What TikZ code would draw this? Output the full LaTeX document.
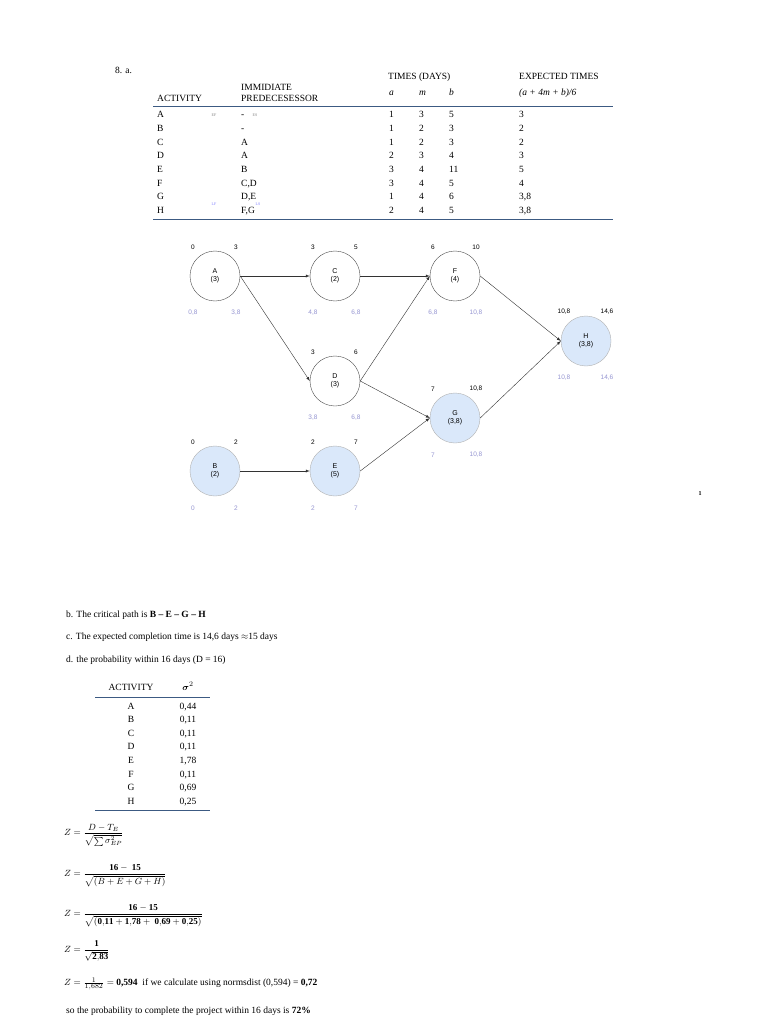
\documentclass[tikz,border=0pt]{standalone}
\usepackage{fontspec}
\setmainfont{Liberation Serif}
\newfontfamily\netfont{Liberation Sans}
\usepackage{amsmath}
\definecolor{critfill}{RGB}{218,232,250}
\definecolor{rulec}{RGB}{60,90,130}
\definecolor{lsc}{RGB}{150,150,210}
\begin{document}
\begin{tikzpicture}[x=1pt,y=-1pt,
  txt/.style={anchor=base west,inner sep=0,font=\fontsize{9.5}{10}\selectfont},
  ctr/.style={anchor=base,inner sep=0,font=\fontsize{9.5}{10}\selectfont},
  tiny/.style={anchor=base,inner sep=0,font=\fontsize{4}{5}\selectfont,text=gray},
  ev/.style={circle,draw=black!70,minimum size=50pt,inner sep=0,align=center,font=\netfont\fontsize{7}{8}\selectfont},
  crit/.style={ev,fill=critfill,draw=gray!60},
  es/.style={anchor=center,inner sep=0,font=\netfont\fontsize{6.5}{7}\selectfont},
  ls/.style={es,text=lsc},
  arr/.style={-latex,black!80,thin},
  rule/.style={draw=rulec,line width=1pt}]
\useasboundingbox (0,0) rectangle (768,1024);
\fill[white] (0,0) rectangle (768,1024);
% table 1
\node[txt] (h8) at (115,74) {8. a.};
\node[txt] (ht) at (388,80) {TIMES (DAYS)};
\node[txt] (he) at (519,80) {EXPECTED TIMES};
\node[txt] (hi) at (241,91) {IMMIDIATE};
\node[txt] (hp) at (241,102) {PREDECESESSOR};
\node[txt] (ha) at (157,102) {ACTIVITY};
\node[txt] (ia) at (389,96) {\itshape a};
\node[txt] (im) at (419,96) {\itshape m};
\node[txt] (ib) at (449,96) {\itshape b};
\node[txt] (ix) at (519,96) {\itshape (a + 4m + b)/6};
\draw[rule] (153,107) -- (613,107);
\foreach \y/\act/\pre/\a/\m/\b/\e in {118/A/-/1/3/5/3,132/B/-/1/2/3/2,146/C/A/1/2/3/2,159/D/A/2/3/4/3,173/E/B/3/4/11/5,187/F/{C,D}/3/4/5/4,200/G/{D,E}/1/4/6/{3,8},214/H/{F,G}/2/4/5/{3,8}}{
  \node[txt] at (157,\y) {\act};
  \node[txt] at (241,\y) {\pre};
  \node[txt] at (389,\y) {\a};
  \node[txt] at (419,\y) {\m};
  \node[txt] at (449,\y) {\b};
  \node[txt] at (519,\y) {\e};
}
\node[tiny] at (214,117) {EF};
\node[tiny] at (255,117) {ES};
\node[tiny,text=blue!50] at (214,206) {LF};
\node[tiny,text=blue!50] at (258,206) {LS};
\draw[rule] (153,220) -- (613,220);
% network
\node[ev] (A) at (215,276) {A\\(3)};
\node[ev] (C) at (335,276) {C\\(2)};
\node[ev] (F) at (455,276) {F\\(4)};
\node[crit] (H) at (586,341) {H\\(3,8)};
\node[ev] (D) at (335,381) {D\\(3)};
\node[crit] (G) at (455,418) {G\\(3,8)};
\node[crit] (B) at (215,471) {B\\(2)};
\node[crit] (E) at (335,471) {E\\(5)};
\foreach \n/\ea/\eb/\la/\lb in {A/0/3/{0,8}/{3,8},C/3/5/{4,8}/{6,8},F/6/10/{6,8}/{10,8},H/{10,8}/{14,6}/{10,8}/{14,6},D/3/6/{3,8}/{6,8},G/7/{10,8}/7/{10,8},B/0/2/0/2,E/2/7/2/7}{
  \node[es] at ([shift={(-22,-29)}]\n) {\ea};
  \node[es] at ([shift={(21,-29)}]\n) {\eb};
  \node[ls] at ([shift={(-22,37)}]\n) {\la};
  \node[ls] at ([shift={(21,37)}]\n) {\lb};
}
\draw[arr] (A) -- (C);
\draw[arr] (A.east) -- (D.west);
\draw[arr] (C) -- (F);
\draw[arr] (D.east) -- (F.west);
\draw[arr] (D.east) -- (G.west);
\draw[arr] (F.east) -- (H.west);
\draw[arr] (G.east) -- (H.west);
\draw[arr] (B) -- (E);
\draw[arr] (E.east) -- (G.west);
\node[anchor=base,inner sep=0,font=\fontsize{6}{7}\selectfont\bfseries] (pg) at (700,495) {1};
% parts b-d
\node[txt] (pb) at (66,617) {b. The critical path is \textbf{B -- E -- G -- H}};
\node[txt] (pc) at (66,639) {c. The expected completion time is 14,6 days $\approx$15 days};
\node[txt] (pd) at (66,662) {d. the probability within 16 days (D = 16)};
\node[ctr] (sa) at (131,690) {ACTIVITY};
\node[ctr] (ss) at (188,690) {$\boldsymbol{\sigma}^2$};
\draw[rule] (95,697) -- (210,697);
\foreach \i/\act/\v in {0/A/{0,44},1/B/{0,11},2/C/{0,11},3/D/{0,11},4/E/{1,78},5/F/{0,11},6/G/{0,69},7/H/{0,25}}{
  \node[ctr] at (131,709+13.6*\i) {\act};
  \node[ctr] at (188,709+13.6*\i) {\v};
}
\draw[rule] (95,810) -- (210,810);
\node[anchor=west,inner sep=0,font=\fontsize{9}{10}\selectfont] (z1) at (64,835) {$Z=\dfrac{D-T_E}{\sqrt{\textstyle\sum\sigma^2_{EP}}}$};
\node[anchor=west,inner sep=0,font=\fontsize{9}{10}\selectfont] (z2) at (64,876) {$Z=\dfrac{\mathbf{16-\ 15}}{\sqrt{(B+E+G+H)}}$};
\node[anchor=west,inner sep=0,font=\fontsize{9}{10}\selectfont] (z3) at (64,916) {$Z=\dfrac{\mathbf{16-15}}{\sqrt{(\mathbf{0{,}11+1{,}78+\ 0{,}69+0{,}25})}}$};
\node[anchor=west,inner sep=0,font=\fontsize{9}{10}\selectfont] (z4) at (64,951) {$Z=\dfrac{\mathbf{1}}{\sqrt{\mathbf{2{,}83}}}$};
\node[anchor=west,inner sep=0,font=\fontsize{9.5}{10}\selectfont] (z5) at (64,984) {$Z=\frac{1}{1{,}682}=$ \textbf{0,594}\ \ if we calculate using normsdist (0,594) = \textbf{0,72}};
\node[txt] (pl) at (66,1013) {so the probability to complete the project within 16 days is \textbf{72\%}};
\end{tikzpicture}
\end{document}
